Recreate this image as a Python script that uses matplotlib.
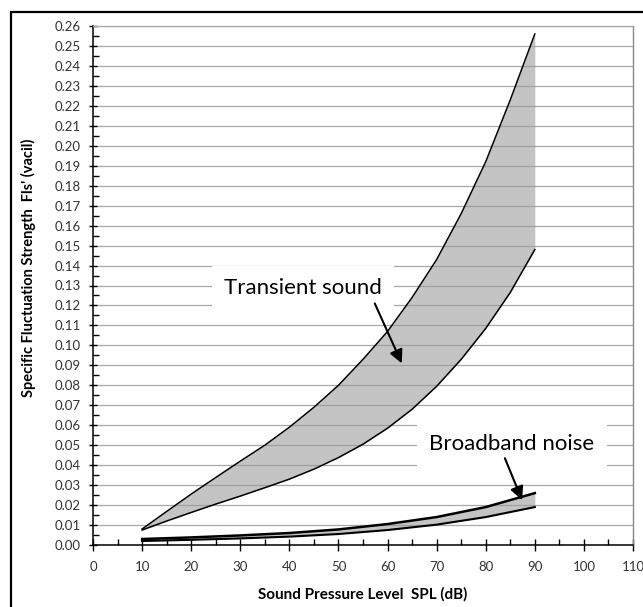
import matplotlib.pyplot as plt
import matplotlib.patches as patches
from matplotlib.ticker import MultipleLocator

plt.rcParams['font.family'] = ['Lato', 'DejaVu Sans']

# Data
spl = [10, 15, 20, 25, 30, 35, 40, 45, 50, 55, 60, 65, 70, 75, 80, 85, 90]
transient_upper = [0.008, 0.0168, 0.0255, 0.0338, 0.042, 0.050, 0.059, 0.069, 0.080,
                   0.093, 0.107, 0.124, 0.143, 0.166, 0.192, 0.223, 0.256]
transient_lower = [0.0075, 0.012, 0.0163, 0.0205, 0.0245, 0.0287, 0.033, 0.038, 0.0438,
                   0.0505, 0.0585, 0.068, 0.0795, 0.093, 0.1085, 0.1265, 0.148]

spl_bb = [10, 20, 30, 40, 50, 60, 70, 80, 90]
broadband_upper = [0.003, 0.0038, 0.0048, 0.006, 0.0078, 0.0105, 0.014, 0.019, 0.026]
broadband_lower = [0.002, 0.0026, 0.0033, 0.0042, 0.0055, 0.0075, 0.0102, 0.014, 0.019]

fig = plt.figure(figsize=(6.43, 6.07), dpi=100)
ax = fig.add_axes([93/643, 62/607, 540/643, 519/607])

# grid lines every 0.01
ax.set_xlim(0, 110)
ax.set_ylim(0, 0.26)
ax.yaxis.set_major_locator(MultipleLocator(0.01))
ax.yaxis.set_minor_locator(MultipleLocator(0.005))
ax.xaxis.set_major_locator(MultipleLocator(10))
ax.xaxis.set_minor_locator(MultipleLocator(5))
ax.grid(axis='y', color='#a8a8a8', linewidth=0.9)
ax.set_axisbelow(True)

# bands
ax.fill_between(spl, transient_lower, transient_upper, color='#9a9a9a', alpha=0.58,
                linewidth=0, zorder=2)
ax.plot(spl, transient_upper, color='black', linewidth=1.1, zorder=3)
ax.plot(spl, transient_lower, color='black', linewidth=1.1, zorder=3)
ax.fill_between(spl_bb, broadband_lower, broadband_upper, color='#9a9a9a', alpha=0.58,
                linewidth=0, zorder=2)
ax.plot(spl_bb, broadband_upper, color='black', linewidth=1.8, zorder=3)
ax.plot(spl_bb, broadband_lower, color='black', linewidth=1.5, zorder=3)

# labels on the chart
box = dict(facecolor='white', edgecolor='none', pad=9)
ax.text(42.8, 0.1285, 'Transient sound', fontsize=16, ha='center', va='center',
        bbox=box, zorder=4)
ax.text(85.3, 0.0505, 'Broadband noise', fontsize=16, ha='center', va='center',
        bbox=box, zorder=4)
ax.annotate('', xy=(62.9, 0.091), xytext=(57.4, 0.121), zorder=5,
            arrowprops=dict(arrowstyle='-|>', color='black', lw=1.5,
                            mutation_scale=20, shrinkA=0, shrinkB=0))
ax.annotate('', xy=(87.4, 0.0225), xytext=(83.9, 0.0435), zorder=5,
            arrowprops=dict(arrowstyle='-|>', color='black', lw=1.5,
                            mutation_scale=20, shrinkA=0, shrinkB=0))

# axes style
ax.yaxis.set_major_formatter(plt.FuncFormatter(lambda v, p: f'{v:.2f}'))
ax.tick_params(axis='both', which='major', direction='inout', width=1,
               labelsize=9.5, colors='black', labelcolor='#333333')
ax.tick_params(axis='y', which='major', length=6, pad=6)
ax.tick_params(axis='x', which='major', length=9, pad=7)
ax.tick_params(axis='both', which='minor', direction='in', length=4, width=1)
for s in ['left', 'bottom']:
    ax.spines[s].set_color('black')
    ax.spines[s].set_linewidth(1.1)
ax.spines['right'].set_color('#888888')
ax.spines['top'].set_color('#a8a8a8')
ax.spines['right'].set_linewidth(1)
ax.spines['top'].set_linewidth(0.9)

ax.set_xlabel('Sound Pressure Level  SPL (dB)', fontsize=11, fontweight='bold',
              labelpad=10)
fig.text(28/643, 1 - 268/607, "Specific Fluctuation Strength  Fls' (vacil)",
         fontsize=10.5, fontweight='bold', rotation=90, ha='center', va='center')

# outer frame
fig.patches.append(patches.Rectangle((11/643, -0.05), 1.05, 1.05 - 12/607,
                                     transform=fig.transFigure, fill=False,
                                     edgecolor='black', linewidth=1.6))

plt.savefig('out.png', dpi=100)
